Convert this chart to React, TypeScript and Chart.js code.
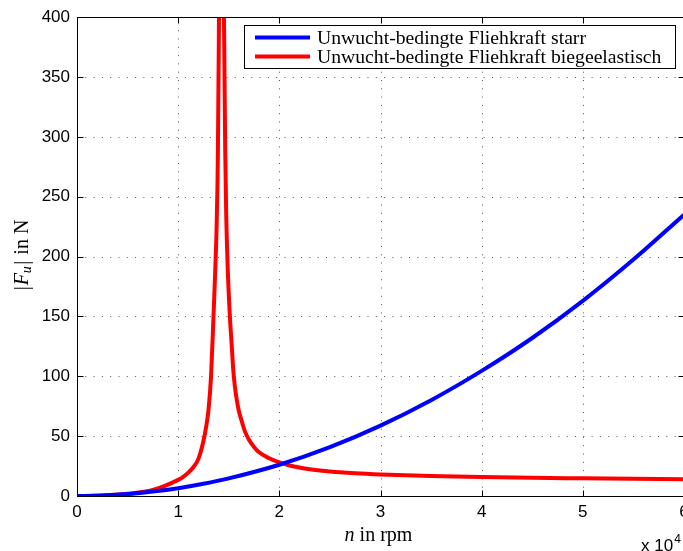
import React, { useEffect, useRef } from "react";
import { Chart, registerables } from "chart.js";

Chart.register(...registerables);

// ---- data (n in 10^4 rpm, |F_u| in N) ----
const rpmStarr = [0, 0.25, 0.5, 0.75, 1, 1.25, 1.5, 2, 2.5, 3, 3.5, 4, 4.5, 5, 5.5, 6];
const forceStarr = [0, 0.4, 1.6, 3.7, 6.5, 10.2, 14.7, 26.1, 40.8, 58.8, 80, 104.5, 132, 163, 197.5, 235];

const rpmElast = [0, 0.25, 0.5, 0.75, 1.0, 1.05, 1.1, 1.15, 1.2, 1.25, 1.275, 1.3, 1.325, 1.347, 1.365, 1.38, 1.392, 1.402, 1.41, 1.428, 1.445, 1.455, 1.465, 1.475, 1.49, 1.51, 1.53, 1.545, 1.56, 1.58, 1.6, 1.63, 1.66, 1.7, 1.75, 1.8, 1.9, 2.0, 2.1, 2.25, 2.5, 2.75, 3, 3.5, 4, 4.5, 5, 5.5, 6];
const forceElast = [0, 0.4, 1.8, 5, 13.5, 16, 19.5, 24, 31, 46, 57, 72, 100, 145, 185, 225, 280, 380, 500, 1000, 480, 380, 290, 235, 190, 152, 125, 105, 92, 80, 71, 62, 54, 47, 41, 36.5, 31.5, 28, 25.5, 23, 20.5, 19, 18, 16.7, 15.8, 15.2, 14.8, 14.4, 14];

const xTicks = [0, 1, 2, 3, 4, 5, 6];
const yTicks = [0, 50, 100, 150, 200, 250, 300, 350, 400];

const seriesLabels = [
  "Unwucht-bedingte Fliehkraft starr",
  "Unwucht-bedingte Fliehkraft biegeelastisch",
];
const seriesColors = ["#0000ff", "#ff0000"];

const SANS = "'Liberation Sans', Arial, sans-serif";
const SERIF = "'Liberation Serif', 'Times New Roman', serif";

const decorPlugin = {
  id: "matlabDecor",
  beforeDatasetsDraw(chart: any) {
    const { ctx, chartArea: a, scales } = chart;
    ctx.save();
    ctx.strokeStyle = "#555";
    ctx.lineWidth = 1;
    ctx.setLineDash([1, 7.3]);
    xTicks.forEach((v) => {
      if (v === 0 || v === 6) return;
      const x = Math.round(scales.x.getPixelForValue(v)) + 0.5;
      ctx.beginPath();
      ctx.moveTo(x, a.bottom);
      ctx.lineTo(x, a.top);
      ctx.stroke();
    });
    yTicks.forEach((v) => {
      if (v === 0 || v === 400) return;
      const y = Math.round(scales.y.getPixelForValue(v)) + 0.5;
      ctx.beginPath();
      ctx.moveTo(a.left, y);
      ctx.lineTo(a.right, y);
      ctx.stroke();
    });
    ctx.restore();
  },
  afterDatasetsDraw(chart: any) {
    const { ctx, chartArea: a, scales } = chart;
    ctx.save();
    ctx.strokeStyle = "#000";
    ctx.lineWidth = 1;
    ctx.setLineDash([]);
    const L = Math.round(a.left) + 0.5, R = Math.round(a.right) + 0.5;
    const T = Math.round(a.top) + 0.5, B = Math.round(a.bottom) + 0.5;
    ctx.strokeRect(L, T, R - L, B - T);
    const tl = 6;
    ctx.beginPath();
    xTicks.forEach((v) => {
      const x = Math.round(scales.x.getPixelForValue(v)) + 0.5;
      ctx.moveTo(x, B); ctx.lineTo(x, B - tl);
      ctx.moveTo(x, T); ctx.lineTo(x, T + tl);
    });
    yTicks.forEach((v) => {
      const y = Math.round(scales.y.getPixelForValue(v)) + 0.5;
      ctx.moveTo(L, y); ctx.lineTo(L + tl, y);
      ctx.moveTo(R, y); ctx.lineTo(R - tl, y);
    });
    ctx.stroke();
    ctx.restore();
  },
  afterDraw(chart: any) {
    const { ctx, chartArea: a } = chart;
    ctx.save();
    // legend box
    const bx = 244.5, by = 25.5, bw = 431, bh = 43;
    ctx.fillStyle = "#fff";
    ctx.fillRect(bx, by, bw, bh);
    ctx.strokeStyle = "#000";
    ctx.lineWidth = 1;
    ctx.strokeRect(bx, by, bw, bh);
    ctx.font = `19.7px ${SERIF}`;
    ctx.textBaseline = "middle";
    ctx.textAlign = "left";
    seriesLabels.forEach((lab, i) => {
      const y = 37.5 + i * 19;
      ctx.strokeStyle = seriesColors[i];
      ctx.lineWidth = 4;
      ctx.beginPath();
      ctx.moveTo(255, y);
      ctx.lineTo(310, y);
      ctx.stroke();
      ctx.fillStyle = "#000";
      ctx.fillText(lab, 317, y + 1);
    });

    // x title: "n in rpm"
    ctx.fillStyle = "#000";
    ctx.textBaseline = "alphabetic";
    const cx = (a.left + a.right) / 2 - 2;
    const parts: [string, string][] = [["italic 20px " + SERIF, "n"], ["20px " + SERIF, " in rpm"]];
    let total = 0;
    parts.forEach(([f, t]) => { ctx.font = f; total += ctx.measureText(t).width; });
    let x = cx - total / 2;
    parts.forEach(([f, t]) => { ctx.font = f; ctx.fillText(t, x, 541); x += ctx.measureText(t).width; });

    // exponent "x 10^4"
    ctx.font = `17px ${SANS}`;
    ctx.fillText("x 10", 641, 551);
    const w10 = ctx.measureText("x 10").width;
    ctx.font = `12px ${SANS}`;
    ctx.fillText("4", 641 + w10 + 1, 543);

    // y title: "|F_u| in N" rotated
    ctx.save();
    ctx.translate(28, 255);
    ctx.rotate(-Math.PI / 2);
    const yp: [string, string, number][] = [
      ["20px " + SERIF, "|", 0],
      ["italic 20px " + SERIF, "F", 0],
      ["italic 14px " + SERIF, "u", 3],
      ["20px " + SERIF, "|", 0],
      ["20px " + SERIF, " in N", 0],
    ];
    const gap = (t: string) => (t === "u" ? 1.5 : t === "|" ? 1 : 0);
    let tw = 0;
    yp.forEach(([f, t]) => { ctx.font = f; tw += ctx.measureText(t).width + gap(t); });
    let px = -tw / 2;
    yp.forEach(([f, t, dy]) => {
      ctx.font = f;
      ctx.fillText(t, px, dy);
      px += ctx.measureText(t).width + gap(t);
    });
    ctx.restore();
    ctx.restore();
  },
};

export default function App() {
  const canvasRef = useRef<HTMLCanvasElement | null>(null);

  useEffect(() => {
    const canvas = canvasRef.current;
    if (!canvas) return;
    const chart = new Chart(canvas, {
      type: "line",
      data: {
        datasets: [
          {
            label: seriesLabels[0],
            data: rpmStarr.map((x, i) => ({ x, y: forceStarr[i] })),
            borderColor: seriesColors[0],
            borderWidth: 4,
            pointRadius: 0,
            cubicInterpolationMode: "monotone",
            fill: false,
          },
          {
            label: seriesLabels[1],
            data: rpmElast.map((x, i) => ({ x, y: forceElast[i] })),
            borderColor: seriesColors[1],
            borderWidth: 4,
            pointRadius: 0,
            cubicInterpolationMode: "monotone",
            fill: false,
          },
        ],
      },
      options: {
        responsive: false,
        animation: false,
        devicePixelRatio: 1,
        layout: { padding: { top: 16, right: 16, left: 0, bottom: 0 } },
        plugins: { legend: { display: false }, tooltip: { enabled: false } },
        scales: {
          x: {
            type: "linear",
            min: 0,
            max: 6,
            afterFit: (s: any) => { s.height = 55; },
            afterBuildTicks: (s: any) => { s.ticks = xTicks.map((v) => ({ value: v })); },
            ticks: { color: "#000", font: { family: SANS, size: 17 }, padding: 6, maxRotation: 0, autoSkip: false },
            grid: { display: false, drawTicks: false },
            border: { display: false },
          },
          y: {
            type: "linear",
            min: 0,
            max: 400,
            afterFit: (s: any) => { s.width = 77; },
            afterBuildTicks: (s: any) => { s.ticks = yTicks.map((v) => ({ value: v })); },
            ticks: { color: "#000", font: { family: SANS, size: 17 }, padding: 7, autoSkip: false },
            grid: { display: false, drawTicks: false },
            border: { display: false },
          },
        },
      },
      plugins: [decorPlugin],
    } as any);
    return () => chart.destroy();
  }, []);

  return (
    <div style={{ position: "fixed", left: 0, top: 0, width: 683, height: 551, overflow: "hidden", background: "#fff" }}>
      <canvas ref={canvasRef} width={700} height={551} style={{ display: "block" }} />
    </div>
  );
}
